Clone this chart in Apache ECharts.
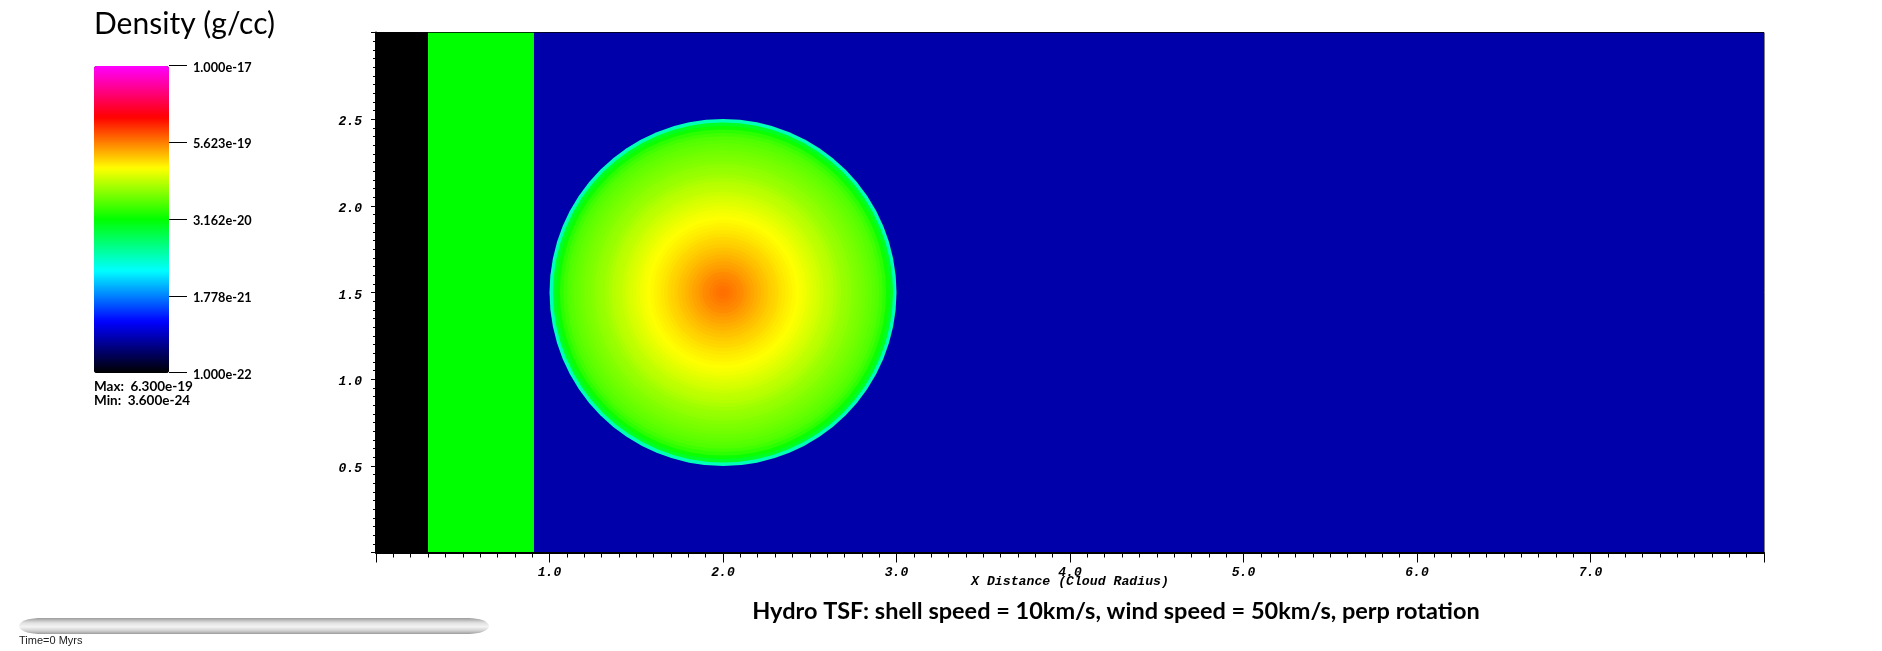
<!DOCTYPE html>
<html><head><meta charset="utf-8">
<style>html,body{margin:0;padding:0;background:#fff}#c{width:1882px;height:651px}</style>
<script src="https://cdn.jsdelivr.net/npm/echarts@6/dist/echarts.min.js"></script>
</head><body><div id="c"></div>
<script>
// log10 density (g/cc)
var bandStart   = [0, 0.30, 0.91];
var bandEnd     = [0.30, 0.91, 8];
var bandLogRho  = [-23.44, -19.5, -21.44];
var cloudCentre = [2.0, 1.5];
var ringRadius  = [.02,.04,.06,.08,.10,.12,.14,.16,.18,.20,.22,.24,.26,.28,.30,.32,.34,.36,.38,.40,.42,.44,.46,.48,.50,
                   .52,.54,.56,.58,.60,.62,.64,.66,.68,.70,.72,.74,.76,.78,.80,.82,.84,.86,.88,.90,.92,.94,.96,.98,1.0];
var ringLogRho  = [-18.20,-18.21,-18.23,-18.25,-18.27,-18.29,-18.32,-18.35,-18.37,-18.40,-18.42,-18.45,-18.47,-18.50,-18.52,
                   -18.54,-18.57,-18.59,-18.61,-18.63,-18.65,-18.67,-18.69,-18.71,-18.74,-18.76,-18.79,-18.81,-18.84,-18.87,
                   -18.89,-18.91,-18.94,-18.97,-19.00,-19.02,-19.04,-19.07,-19.09,-19.11,-19.13,-19.16,-19.18,-19.21,-19.24,
                   -19.29,-19.36,-19.46,-19.62,-20.10];
var colorMin = -22, colorMax = -17;
// colour-bar axis runs in decades above the floor, one labelled tick every 1.25
var decadeMax = 5, decadeStep = 1.25;
var colorLabels = ['1.000e-22','1.778e-21','3.162e-20','5.623e-19','1.000e-17'];
var colorStops  = ['#000000','#0000ff','#00ffff','#00ff00','#ffff00','#ff0000','#ff00ff'];
var xRange = [0, 8], yRange = [0, 3];
var maxText = 'Max:  6.300e-19', minText = 'Min:  3.600e-24';
var timeText = 'Time=0 Myrs';
var chartTitle = 'Hydro TSF: shell speed = 10km/s, wind speed = 50km/s, perp rotation';
var colorTitle = 'Density (g/cc)';
var xName = 'X Distance (Cloud Radius)';

var bandData = bandStart.map(function(s,i){return [s, bandEnd[i], yRange[1], bandLogRho[i]];});
var ringData = ringRadius.map(function(r,i){return [cloudCentre[0], cloudCentre[1], r, ringLogRho[i]];}).reverse();

var monoFont = {fontFamily:'Liberation Mono',fontWeight:'bold',fontStyle:'italic',fontSize:13,color:'#000'};
var labelFont = {fontFamily:'Lato',fontWeight:'bold',fontSize:13.5,fill:'#000'};
var sliderGrad = function(){return {type:'linear',x:0,y:0,x2:0,y2:1,colorStops:[
  {offset:0,color:'#9c9c9c'},{offset:.3,color:'#e0e0e0'},{offset:.55,color:'#f4f4f4'},{offset:.8,color:'#d0d0d0'},{offset:1,color:'#9c9c9c'}]};};

var chart = echarts.init(document.getElementById('c'), null, {renderer:'canvas'});
chart.setOption({
  animation:false,
  backgroundColor:'#fff',
  title:{text:chartTitle,left:1111,top:594,textAlign:'center',
         textStyle:{fontFamily:'Lato',fontWeight:'bold',fontSize:23.5,color:'#000'}},
  grid:[
    {left:376,top:32.5,width:1388,height:520,show:true,backgroundColor:'transparent',borderColor:'#000',borderWidth:1,containLabel:false},
    {left:169,top:65.5,width:20,height:307,show:false}
  ],
  xAxis:[
    {type:'value',gridIndex:0,min:xRange[0],max:xRange[1],interval:1,z:5,
     axisLine:{show:true,lineStyle:{color:'#000',width:2}},
     axisTick:{show:true,length:10,lineStyle:{color:'#000',width:1}},
     minorTick:{show:true,splitNumber:10,length:5,lineStyle:{color:'#000',width:1}},
     splitLine:{show:false},minorSplitLine:{show:false},
     axisLabel:Object.assign({margin:14,showMinLabel:false,showMaxLabel:false,formatter:function(v){return v.toFixed(1);}},monoFont),
     name:xName,nameLocation:'middle',nameGap:23,nameMoveOverlap:false,nameTextStyle:Object.assign({},monoFont,{fontSize:13.2})},
    {type:'value',gridIndex:1,min:0,max:1,show:false}
  ],
  yAxis:[
    {type:'value',gridIndex:0,min:yRange[0],max:yRange[1],interval:.5,z:5,
     axisLine:{show:true,lineStyle:{color:'#000',width:2}},
     axisTick:{show:true,length:5,lineStyle:{color:'#000',width:1}},
     minorTick:{show:true,splitNumber:10,length:3,lineStyle:{color:'#000',width:1}},
     splitLine:{show:false},minorSplitLine:{show:false},
     axisLabel:Object.assign({margin:14,verticalAlign:'top',lineHeight:6,showMinLabel:false,showMaxLabel:false,formatter:function(v){return v.toFixed(1);}},monoFont)},
    {type:'value',gridIndex:1,min:0,max:decadeMax,interval:decadeStep,position:'left',z:5,
     axisLine:{show:false},
     axisTick:{show:true,inside:true,length:18,lineStyle:{color:'#000',width:1}},
     splitLine:{show:false},
     axisLabel:{show:true,inside:true,margin:24,showMinLabel:true,showMaxLabel:true,verticalAlign:'top',lineHeight:4,
       formatter:function(v){return colorLabels[Math.round(v/decadeStep)];},
       fontFamily:'Lato',fontWeight:'bold',fontSize:12.7,color:'#000'}}
  ],
  visualMap:{type:'continuous',min:colorMin,max:colorMax,seriesIndex:[0,1],dimension:3,
    left:94,top:66,itemWidth:75,itemHeight:307,padding:0,calculable:false,realtime:false,hoverLink:false,
    text:null,showLabel:false,
    inRange:{color:colorStops},outOfRange:{color:['#000000']},textStyle:{fontSize:0},
    formatter:function(){return '';}},
  series:[
    {type:'custom',xAxisIndex:0,yAxisIndex:0,clip:true,silent:true,data:bandData,encode:{x:[0,1],y:2},
     renderItem:function(p,api){
       var a=api.coord([api.value(0),api.value(2)]), b=api.coord([api.value(1),yRange[0]]);
       return {type:'rect',shape:{x:a[0],y:a[1],width:b[0]-a[0],height:b[1]-a[1]},style:{fill:api.visual('color')}};
     }},
    {type:'custom',xAxisIndex:0,yAxisIndex:0,clip:true,silent:true,data:ringData,encode:{x:0,y:1},z:3,
     renderItem:function(p,api){
       var c=api.coord([api.value(0),api.value(1)]), r=api.size([api.value(2),0])[0];
       return {type:'circle',shape:{cx:c[0],cy:c[1],r:r},style:{fill:api.visual('color')}};
     }}
  ],
  graphic:[
    {type:'text',left:94,top:9,style:{text:colorTitle,fontFamily:'Lato',fontSize:30,fill:'#000'}},
    {type:'text',left:94,top:380,style:Object.assign({text:maxText},labelFont)},
    {type:'text',left:94,top:394,style:Object.assign({text:minText},labelFont)},
    {type:'ellipse',shape:{cx:40,cy:626,rx:21,ry:8},style:{fill:sliderGrad()}},
    {type:'ellipse',shape:{cx:468,cy:626,rx:21,ry:8},style:{fill:sliderGrad()}},
    {type:'rect',shape:{x:37,y:618,width:433,height:16},style:{fill:sliderGrad()}},
    {type:'text',left:19,top:635,style:{text:timeText,fontFamily:'Liberation Sans',fontSize:11,fill:'#222'}}
  ]
});
</script></body></html>
